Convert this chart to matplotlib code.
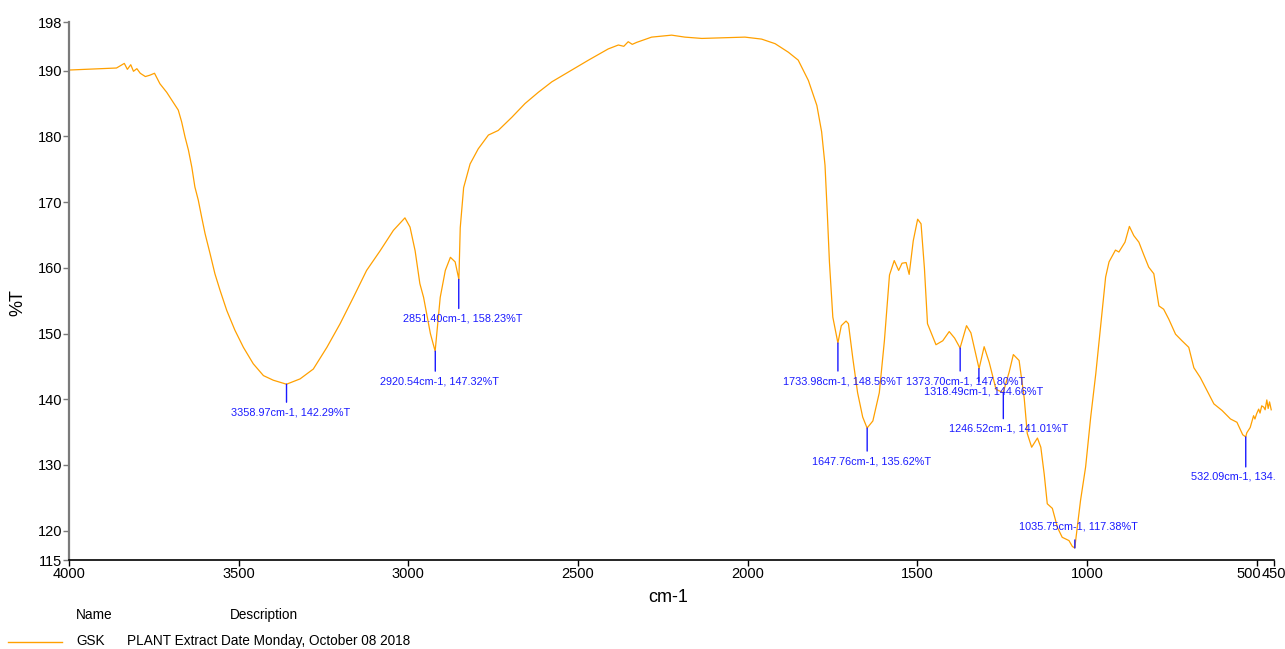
import matplotlib
matplotlib.use("Agg")
import matplotlib.pyplot as plt
from matplotlib.lines import Line2D
from matplotlib.transforms import ScaledTranslation

plt.rcParams['font.family'] = ['Liberation Sans', 'DejaVu Sans']

# ---- spectrum data (wavenumber cm-1, %T) ----
wavenumber = [3996, 3950, 3900, 3860, 3837, 3828, 3818, 3810, 3800, 3790, 3775, 3762, 3748,
              3732, 3712, 3693, 3678, 3668, 3658, 3648, 3638, 3629, 3619, 3609, 3599, 3584,
              3570, 3555, 3535, 3511, 3486, 3457, 3427, 3398, 3359, 3319, 3280, 3240, 3201,
              3162, 3123, 3083, 3044, 3010, 2995, 2980, 2966, 2955, 2935, 2921, 2906, 2891,
              2876, 2862, 2851, 2847, 2837, 2818, 2794, 2764, 2735, 2695, 2656, 2617, 2577,
              2528, 2469, 2411, 2381, 2365, 2352, 2340, 2327, 2283, 2224, 2185, 2135, 2076,
              2008, 1959, 1919, 1880, 1851, 1821, 1796, 1782, 1772, 1765, 1759, 1749, 1734,
              1724, 1710, 1703, 1690, 1676, 1661, 1648, 1631, 1612, 1597, 1582, 1568, 1555,
              1545, 1533, 1524, 1512, 1499, 1489, 1479, 1470, 1445, 1425, 1406, 1390, 1374,
              1355, 1342, 1318, 1303, 1288, 1268, 1247, 1229, 1217, 1200, 1185, 1176, 1163,
              1146, 1136, 1126, 1117, 1102, 1087, 1073, 1053, 1043, 1036, 1019, 1004, 989,
              974, 960, 945, 935, 916, 906, 888, 875, 862, 847, 832, 818, 803, 788, 774,
              759, 739, 720, 700, 685, 666, 646, 626, 602, 577, 558, 541, 532, 529, 519,
              509, 505, 500, 494, 490, 485, 479, 475, 470, 466, 462, 457]
transmittance = [190.1, 190.2, 190.3, 190.4, 191.1, 190.2, 190.9, 189.9, 190.3, 189.6, 189.1, 189.3, 189.6,
                 188.0, 186.7, 185.2, 184.0, 182.2, 179.9, 177.9, 175.3, 172.3, 170.3, 167.7, 165.2, 162.1,
                 159.1, 156.6, 153.5, 150.5, 147.9, 145.4, 143.6, 142.9, 142.29, 143.1, 144.6, 147.9, 151.5,
                 155.5, 159.6, 162.6, 165.7, 167.6, 166.2, 162.6, 157.6, 155.5, 150.0, 147.32, 155.5, 159.6,
                 161.6, 160.9, 158.23, 166.1, 172.2, 175.8, 178.1, 180.2, 180.9, 182.9, 185.0, 186.7, 188.3,
                 189.8, 191.6, 193.3, 193.9, 193.7, 194.4, 194.0, 194.3, 195.1, 195.4, 195.1, 194.9, 195.0,
                 195.1, 194.8, 194.1, 192.8, 191.6, 188.5, 184.7, 180.7, 175.6, 168.0, 160.9, 152.5, 148.56,
                 151.2, 151.9, 151.5, 146.2, 141.0, 137.3, 135.62, 136.7, 141.0, 148.9, 158.9, 161.1, 159.6,
                 160.7, 160.8, 159.0, 164.1, 167.4, 166.7, 159.9, 151.5, 148.3, 148.9, 150.3, 149.3, 147.8,
                 151.2, 150.1, 144.66, 148.0, 145.6, 141.5, 141.01, 144.2, 146.8, 145.9, 140.2, 134.8, 132.7,
                 134.1, 132.7, 128.6, 124.1, 123.4, 120.5, 119.0, 118.5, 117.6, 117.38, 124.6, 129.7, 137.3,
                 143.9, 151.0, 158.6, 160.9, 162.7, 162.4, 163.9, 166.3, 164.9, 163.9, 161.9, 160.1, 159.1, 154.2, 153.7,
                 152.2, 149.9, 148.9, 147.9, 144.8, 143.3, 141.3, 139.3, 138.3, 137.0, 136.5, 134.6, 134.27, 134.9, 135.7,
                 137.5, 137.0, 137.8, 138.5, 137.9, 139.0, 138.8, 138.4, 139.9, 138.6, 139.6, 138.4]

# ---- peak annotations ----
peak_wn = [3358.97, 2920.54, 2851.40, 1733.98, 1647.76, 1373.70, 1318.49, 1246.52, 1035.75, 532.09]
peak_T = [142.29, 147.32, 158.23, 148.56, 135.62, 147.80, 144.66, 141.01, 117.38, 134.27]
peak_labels = ["3358.97cm-1, 142.29%T", "2920.54cm-1, 147.32%T", "2851.40cm-1, 158.23%T",
               "1733.98cm-1, 148.56%T", "1647.76cm-1, 135.62%T", "1373.70cm-1, 147.80%T",
               "1318.49cm-1, 144.66%T", "1246.52cm-1, 141.01%T", "1035.75cm-1, 117.38%T",
               "532.09cm-1, 134."]

# axis ticks
x_ticks = [4000, 3500, 3000, 2500, 2000, 1500, 1000, 500, 450]
x_ticklabels = ["4000", "3500", "3000", "2500", "2000", "1500", "1000", "500", "450"]
y_ticks = [115.5, 120, 130, 140, 150, 160, 170, 180, 190, 197.4]
y_ticklabels = ["115", "120", "130", "140", "150", "160", "170", "180", "190", "198"]

legend_name = "GSK"
legend_desc = "PLANT Extract Date Monday, October 08 2018"

# ---- layout ----
W, H = 1285, 649
fig = plt.figure(figsize=(W / 100, H / 100), dpi=100)
ax = fig.add_axes([69 / W, 1 - 560.3 / H, (1273.6 - 69) / W, (560.3 - 22) / H])

line_color = '#FFA000'
mark_color = '#1a1aff'

ax.plot(wavenumber, transmittance, color=line_color, lw=0.9)
ax.set_xlim(4000, 450)
ax.set_ylim(115.5, 197.4)

ax.set_xticks(x_ticks)
ax.set_xticklabels(x_ticklabels)
ax.set_yticks(y_ticks)
ax.set_yticklabels(y_ticklabels)

for s in ['top', 'right']:
    ax.spines[s].set_visible(False)
ax.spines['left'].set_color('#7a7a7a')
ax.spines['left'].set_linewidth(1.6)
ax.spines['bottom'].set_color('black')
ax.spines['bottom'].set_linewidth(1.2)
ax.tick_params(axis='y', direction='out', length=4, width=1, color='#7a7a7a',
               labelsize=10.5, pad=1)
ax.tick_params(axis='x', direction='out', length=4, width=1, color='black',
               labelsize=10.5, pad=1)

# nudge the crowded "500" label left so it does not collide with "450"
for lab in ax.get_xticklabels():
    if lab.get_text() == "500":
        lab.set_transform(lab.get_transform() + ScaledTranslation(-8 / 100, 0, fig.dpi_scale_trans))

# stem lengths (pixels), text offsets (pixels)
stem_px = [18, 20, 29, 28, 23, 23, 13, 26, -8, 30]
text_dx = [4, 4, 4, 5, 4, 5, 5, 5, 4, -55]
text_ha = ['center'] * 9 + ['left']
text_gap = 10
for wn_, t_, lab, sp, dx, ha in zip(peak_wn, peak_T, peak_labels, stem_px, text_dx, text_ha):
    ax.annotate('', xy=(wn_, t_), xytext=(0, -sp), textcoords='offset pixels',
                arrowprops=dict(arrowstyle='-', color=mark_color, lw=1.0,
                                shrinkA=0, shrinkB=0))
    if sp > 0:
        dy = -(sp + text_gap)
    else:
        dy = -sp + 13
    ax.annotate(lab, xy=(wn_, t_), xytext=(dx, dy), textcoords='offset pixels',
                ha=ha, va='center', color=mark_color, fontsize=7.8, annotation_clip=False)

# axis labels
fig.text(668 / W, 1 - 597 / H, 'cm-1', ha='center', va='center', fontsize=13)
fig.text(18 / W, 1 - 303 / H, '%T', ha='center', va='center', rotation=90, fontsize=13)

# legend block
fig.text(76 / W, 1 - 615 / H, 'Name', ha='left', va='center', fontsize=9.8)
fig.text(230 / W, 1 - 615 / H, 'Description', ha='left', va='center', fontsize=9.8)
fig.add_artist(Line2D([8 / W, 62 / W], [1 - 642 / H, 1 - 642 / H], color=line_color, lw=1.0,
                      transform=fig.transFigure))
fig.text(76 / W, 1 - 641 / H, legend_name, ha='left', va='center', fontsize=9.8)
fig.text(127 / W, 1 - 641 / H, legend_desc, ha='left', va='center', fontsize=9.8)

fig.savefig('out.png', dpi=100)
